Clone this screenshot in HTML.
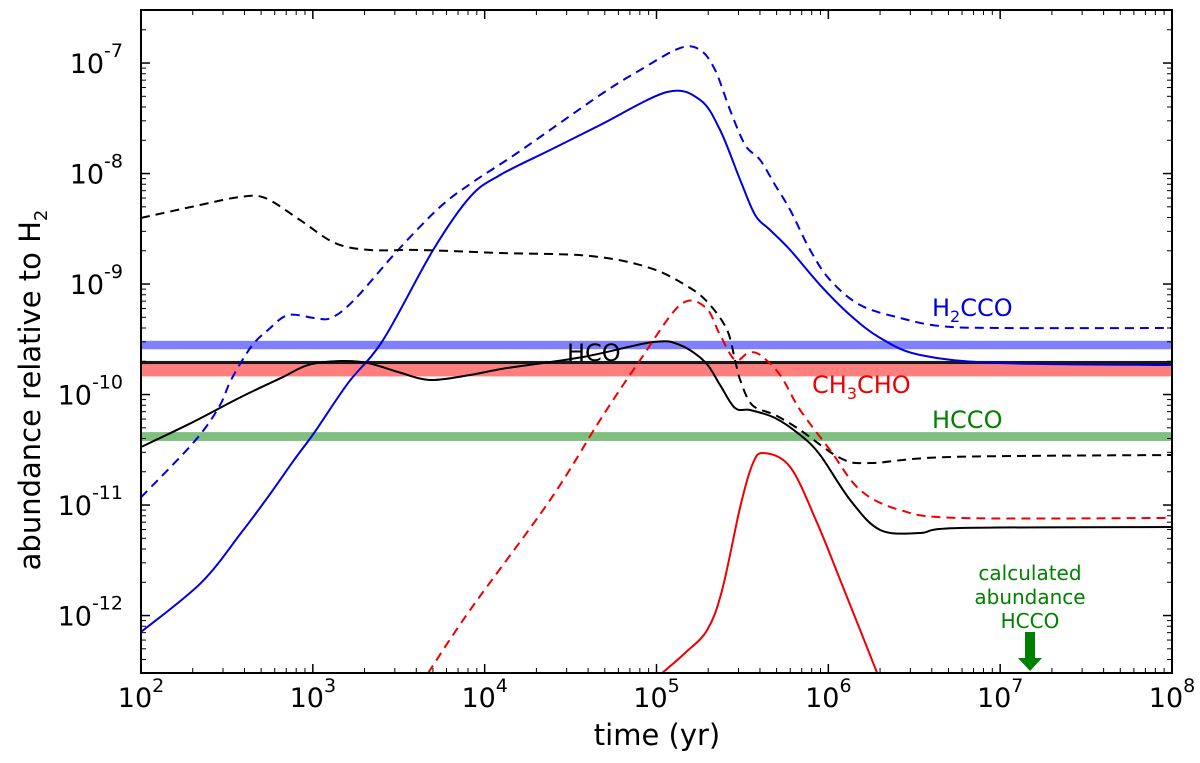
<!DOCTYPE html>
<html><head><meta charset="utf-8"><style>
body{margin:0;background:#fff;font-family:"Liberation Sans","DejaVu Sans",sans-serif}
svg text{font-family:"DejaVu Sans","Liberation Sans",sans-serif}
</style></head><body>
<svg id="chart" width="1200" height="763" viewBox="0 0 1200 763" style="position:absolute;left:0;top:0">
<defs><clipPath id="clip"><rect x="141" y="10" width="1031" height="663"/></clipPath></defs>
<g id="bands" clip-path="url(#clip)"></g>
<g id="series" clip-path="url(#clip)"></g>
<g id="axes"></g>
</svg>
<script>
// data in log10 units: time (yr) exponents, abundance exponents
const blueSolidT=[2,2.349,2.582,2.739,2.891,3.007,3.205,3.409,3.700,3.915,4.090,4.381,4.672,5.062,5.254,5.370,5.487,5.574,5.661,5.778,5.952,6.127,6.302,6.534,7.0,8];
const blueSolidA=[-12.149,-11.705,-11.253,-10.927,-10.592,-10.348,-9.896,-9.506,-8.692,-8.212,-8.013,-7.787,-7.561,-7.262,-7.334,-7.606,-8.058,-8.375,-8.511,-8.692,-9.009,-9.281,-9.488,-9.642,-9.715,-9.733];
const blueDashT=[2,2.308,2.454,2.524,2.640,2.739,2.856,3.007,3.106,3.240,3.496,3.740,3.932,4.189,4.672,4.905,5.137,5.254,5.341,5.428,5.516,5.603,5.690,5.778,5.894,6.010,6.185,6.418,6.651,7.0,8];
const blueDashA=[-10.93,-10.430,-10.113,-9.868,-9.570,-9.416,-9.281,-9.307,-9.307,-9.145,-8.692,-8.303,-8.077,-7.814,-7.289,-7.063,-6.864,-6.882,-7.063,-7.425,-7.742,-7.877,-8.104,-8.330,-8.692,-8.963,-9.190,-9.307,-9.380,-9.398,-9.398];
const blackDashT=[2,2.343,2.576,2.722,2.925,3.129,3.333,3.624,4.090,4.614,4.963,5.196,5.312,5.411,5.457,5.487,5.557,5.690,5.836,6.069,6.243,6.709,8];
const blackDashA=[-8.402,-8.285,-8.212,-8.221,-8.420,-8.629,-8.692,-8.692,-8.719,-8.746,-8.855,-9.036,-9.190,-9.416,-9.687,-9.868,-10.095,-10.185,-10.321,-10.574,-10.620,-10.565,-10.547];
const blackSolidT=[2,2.291,2.582,2.815,2.972,3.164,3.321,3.496,3.682,3.915,4.130,4.573,4.980,5.137,5.283,5.370,5.457,5.545,5.690,5.836,5.952,6.127,6.302,6.534,6.767,8];
const blackSolidA=[-10.475,-10.258,-10.022,-9.850,-9.733,-9.697,-9.715,-9.796,-9.868,-9.823,-9.760,-9.660,-9.525,-9.552,-9.706,-9.914,-10.122,-10.140,-10.212,-10.366,-10.547,-10.954,-11.226,-11.253,-11.208,-11.199];
const redDashT=[3.671,3.915,4.381,4.672,4.905,5.137,5.283,5.370,5.457,5.533,5.603,5.719,5.836,6.010,6.185,6.418,6.767,8];
const redDashA=[-12.52,-11.950,-10.954,-10.230,-9.687,-9.190,-9.208,-9.461,-9.687,-9.624,-9.642,-9.823,-10.140,-10.502,-10.864,-11.045,-11.117,-11.117];
const redSolidT=[5.033,5.166,5.295,5.382,5.487,5.557,5.621,5.778,5.935,6.069,6.185,6.284];
const redSolidA=[-12.52,-12.339,-12.131,-11.769,-11.018,-10.638,-10.529,-10.656,-11.163,-11.678,-12.131,-12.52];
const bandNames=["h2cco-obs","ch3cho-obs","hco-obs","hcco-obs"];
const bandCenters=[-9.552,-9.778,-9.71,-10.380];
const bandHalf=[0.038,0.058,0.014,0.04];
const bandColors=["rgba(0,0,255,0.5)","rgba(255,0,0,0.5)","rgba(0,0,0,0.9)","rgba(0,128,0,0.5)"];
const xTickExps=[2,3,4,5,6,7,8];
const yTickExps=[-12,-11,-10,-9,-8,-7];

const X0=141,X1=1172,Y0=10,Y1=673,XMIN=2,XMAX=8,YMIN=-12.52,YMAX=-6.52;
const sx=v=>X0+(v-XMIN)/(XMAX-XMIN)*(X1-X0);
const sy=v=>Y1-(v-YMIN)/(YMAX-YMIN)*(Y1-Y0);
const NS="http://www.w3.org/2000/svg";
function mk(tag,attrs,parent){const e=document.createElementNS(NS,tag);for(const k in attrs)e.setAttribute(k,attrs[k]);parent.appendChild(e);return e;}
function pathD(T,A){const p=T.map((t,i)=>[sx(t),sy(A[i])]);let d=`M${p[0][0]},${p[0][1]}`;
for(let i=0;i<p.length-1;i++){const a=p[i-1]||p[i],b=p[i],c=p[i+1],e=p[i+2]||c;
d+=` C${b[0]+(c[0]-a[0])/6},${b[1]+(c[1]-a[1])/6} ${c[0]-(e[0]-b[0])/6},${c[1]-(e[1]-b[1])/6} ${c[0]},${c[1]}`;}return d;}
const bands=document.getElementById('bands');
bandCenters.forEach((c,i)=>{const r=mk('rect',{x:X0,width:X1-X0,y:sy(c+bandHalf[i]),height:sy(c-bandHalf[i])-sy(c+bandHalf[i]),fill:bandColors[i]},bands);

});
const ser=document.getElementById('series');
const defs=[[blueDashT,blueDashA,'#0000dd',true,'h2cco-dashed'],[blueSolidT,blueSolidA,'#0000dd',false,'h2cco-solid'],
[blackDashT,blackDashA,'#000',true,'hco-dashed'],[blackSolidT,blackSolidA,'#000',false,'hco-solid'],
[redDashT,redDashA,'#ee0000',true,'ch3cho-dashed'],[redSolidT,redSolidA,'#ee0000',false,'ch3cho-solid']];
defs.forEach(s=>{const p=mk('path',{d:pathD(s[0],s[1]),fill:'none',stroke:s[2],'stroke-width':2,'stroke-dasharray':s[3]?'9,6':'none'},ser);

});
const ax=document.getElementById('axes');
const fr=mk('rect',{x:X0,y:Y0,width:X1-X0,height:Y1-Y0,fill:'none',stroke:'#000','stroke-width':2},ax);


xTickExps.forEach(e=>{const x=sx(e);
mk('line',{x1:x,x2:x,y1:Y1,y2:Y1-9,stroke:'#000','stroke-width':1.5},ax);mk('line',{x1:x,x2:x,y1:Y0,y2:Y0+9,stroke:'#000','stroke-width':1.5},ax);
if(e<8)for(let m=2;m<10;m++){const xm=sx(e+Math.log10(m));mk('line',{x1:xm,x2:xm,y1:Y1,y2:Y1-5,stroke:'#000'},ax);mk('line',{x1:xm,x2:xm,y1:Y0,y2:Y0+5,stroke:'#000'},ax);}
const t=mk('text',{x:x,y:Y1+34,'font-size':27,'text-anchor':'middle'},ax);t.innerHTML='10<tspan font-size="19" dy="-15">'+e+'</tspan>';

});
for(let e=-13;e<=-7;e++)for(let m=1;m<10;m++){const v=e+Math.log10(m);if(v<YMIN||v>YMAX)continue;const y=sy(v),L=m==1?9:5;
mk('line',{x1:X0,x2:X0+L,y1:y,y2:y,stroke:'#000','stroke-width':m==1?1.5:1},ax);mk('line',{x1:X1,x2:X1-L,y1:y,y2:y,stroke:'#000','stroke-width':m==1?1.5:1},ax);}
yTickExps.forEach(e=>{const t=mk('text',{x:X0-18,y:sy(e)+10,'font-size':27,'text-anchor':'end'},ax);t.innerHTML='10<tspan font-size="19" dy="-16">'+e+'</tspan>';

});
</script>
<svg style="position:absolute;left:0;top:0" width="1200" height="763">
<text x="657" y="745" font-size="29" text-anchor="middle" font-family="DejaVu Sans">time (yr)</text>
<text transform="translate(40,390) rotate(-90)" font-size="29" text-anchor="middle" font-family="DejaVu Sans">abundance relative to H<tspan font-size="18" dy="7">2</tspan></text>
<text x="932" y="316" font-size="24" fill="#0000dd" font-family="DejaVu Sans">H<tspan font-size="16" dy="6">2</tspan><tspan dy="-6">CCO</tspan></text>
<text x="567" y="361" font-size="24" fill="#000" font-family="DejaVu Sans">HCO</text>
<text x="812" y="393" font-size="24" fill="#ee0000" font-family="DejaVu Sans">CH<tspan font-size="16" dy="6">3</tspan><tspan dy="-6">CHO</tspan></text>
<text x="932" y="428" font-size="24" fill="#008000" font-family="DejaVu Sans">HCCO</text>
<g fill="#008000" font-family="DejaVu Sans" font-size="20" text-anchor="middle">
<text x="1030" y="580">calculated</text><text x="1030" y="604">abundance</text><text x="1030" y="628">HCCO</text></g>
<g><rect x="1025" y="632" width="10" height="28" fill="#008000"/><polygon points="1018,658 1042,658 1030,671" fill="#008000"/></g>
</svg>
</body></html>
